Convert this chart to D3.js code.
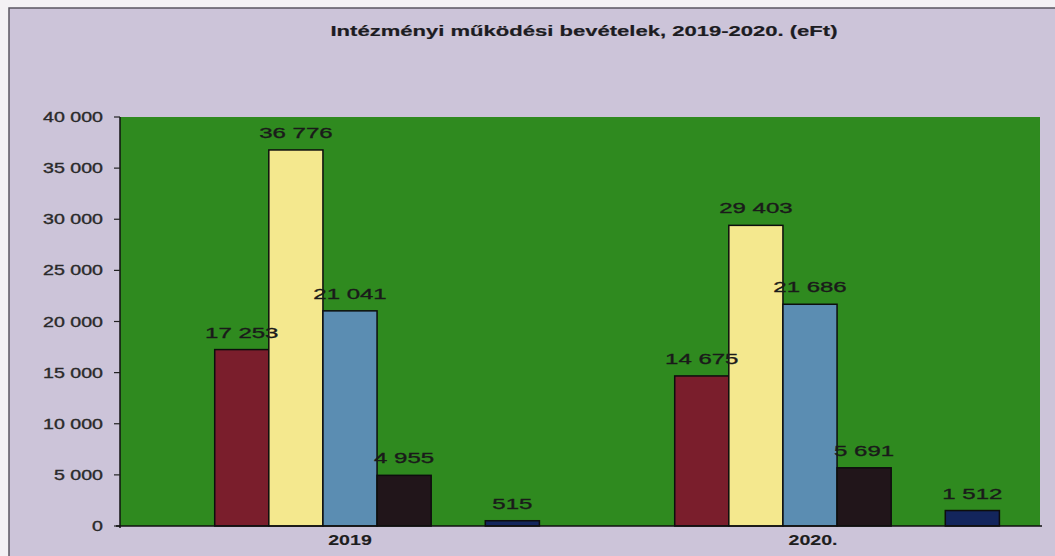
<!DOCTYPE html>
<html>
<head>
<meta charset="utf-8">
<script src="https://cdn.jsdelivr.net/npm/d3@7"></script>
<style>
  html, body { margin: 0; padding: 0; background: #f3f1f4; }
  svg { display: block; }
  text { font-family: "Liberation Sans", Arial, sans-serif; }
</style>
</head>
<body>
<svg id="chart" width="1055" height="556"></svg>
<script>
// ---- data ----
const title = "Intézményi működési bevételek, 2019-2020. (eFt)";
const categories = ["2019", "2020."];
const seriesNames = ["s1", "s2", "s3", "s4", "s5", "s6", "s7"];
const values2019 = [null, 17253, 36776, 21041, 4955, null, 515];
const values2020 = [null, 14675, 29403, 21686, 5691, null, 1512];
const seriesValues = [values2019, values2020];
const yTicks = [0, 5000, 10000, 15000, 20000, 25000, 30000, 35000, 40000];
const yMax = 40000;

// ---- styles ----
const seriesColors = ["#2f8a1f", "#7a1e2c", "#f4e88e", "#5b8db2", "#21151a", "#2f8a1f", "#13255c"];
const fmt = v => d3.format(",")(v).replace(/,/g, " ");

const svg = d3.select("#chart");
const plot = { left: 120, right: 1040, top: 117, bottom: 526 };

// frame
svg.append("rect").attr("x", 9).attr("y", 8).attr("width", 1060).attr("height", 560)
  .attr("fill", "#ccc4d9").attr("stroke", "#5a5560").attr("stroke-width", 1.5);

// stretched text helper
function stext(g, x, y, str, opts) {
  return g.append("text")
    .attr("transform", `translate(${x},${y}) scale(${opts.sx},1)`)
    .attr("text-anchor", opts.anchor || "middle")
    .attr("font-size", opts.size)
    .attr("font-weight", opts.weight || "normal")
    .attr("fill", opts.fill || "#1e1e1e")
    .attr("stroke", opts.fill || "#1e1e1e")
    .attr("stroke-width", opts.sw || 0.35)
    .text(str);
}

// title
stext(svg, 584, 36, title, { sx: 1.47, size: 15, weight: "bold", fill: "#1c1c22", sw: 0.2 });

// scales
const x0 = d3.scaleBand().domain(categories).range([plot.left, plot.right]).paddingInner(0).paddingOuter(0);
const x1 = d3.scaleBand().domain(seriesNames).range([0, x0.bandwidth()]).paddingInner(0).paddingOuter(0.75);
const y = d3.scaleLinear().domain([0, yMax]).range([plot.bottom, plot.top]);

// plot area
svg.append("rect").attr("x", plot.left).attr("y", plot.top)
  .attr("width", plot.right - plot.left).attr("height", plot.bottom - plot.top)
  .attr("fill", "#2f8a1f");

// bars
const groups = svg.selectAll("g.grp").data(categories).join("g")
  .attr("class", "grp")
  .attr("transform", d => `translate(${x0(d)},0)`);

groups.each(function(cat, ci) {
  const g = d3.select(this);
  const vals = seriesValues[ci].map((v, si) => ({ v, s: seriesNames[si], c: seriesColors[si] }))
    .filter(d => d.v !== null);
  g.selectAll("rect").data(vals).join("rect")
    .attr("x", d => x1(d.s))
    .attr("y", d => y(d.v))
    .attr("width", x1.bandwidth())
    .attr("height", d => y(0) - y(d.v))
    .attr("fill", d => d.c)
    .attr("stroke", "#0d0d0d")
    .attr("stroke-width", 1.5);
  vals.forEach(d => {
    stext(g, x1(d.s) + x1.bandwidth() / 2, y(d.v) - 12, fmt(d.v), { sx: 1.6, size: 15, fill: "#1a1a1a" });
  });
});

// y axis
const yAxis = svg.append("g").attr("transform", `translate(${plot.left},0)`);
yAxis.append("line").attr("x1", 0).attr("x2", 0).attr("y1", plot.top).attr("y2", plot.bottom + 2)
  .attr("stroke", "#111").attr("stroke-width", 1.5);
yTicks.forEach(t => {
  yAxis.append("line").attr("x1", -6).attr("x2", 0).attr("y1", y(t)).attr("y2", y(t))
    .attr("stroke", "#222").attr("stroke-width", 1.2);
  stext(yAxis, -17, y(t) + 5, fmt(t), { sx: 1.4, size: 14, anchor: "end", fill: "#2a2a2a" });
});

// x axis
svg.append("line").attr("x1", plot.left - 4).attr("x2", plot.right + 2)
  .attr("y1", plot.bottom).attr("y2", plot.bottom)
  .attr("stroke", "#111").attr("stroke-width", 1.5);
categories.forEach(c => {
  const cx = x0(c) + x0.bandwidth() / 2;
  stext(svg, cx + (c.endsWith(".") ? 3 : 0), 545, c, { sx: 1.4, size: 14, weight: "bold", fill: "#1e1e1e", sw: 0.1 });
});
</script>
</body>
</html>
